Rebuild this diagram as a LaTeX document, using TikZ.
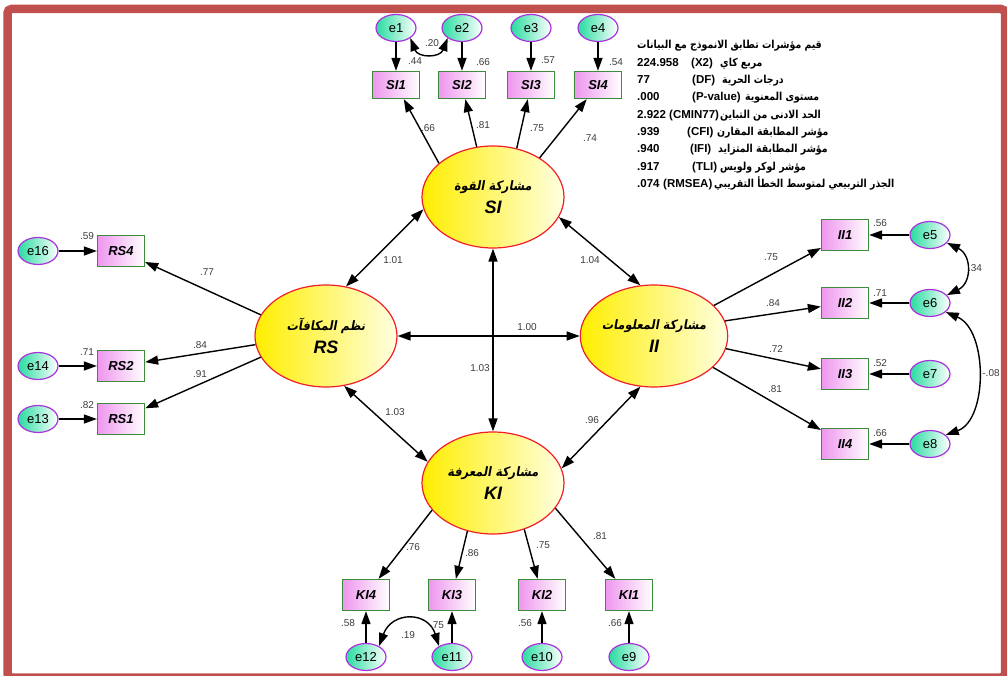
\documentclass[tikz,border=0pt]{standalone}
\usepackage{fontspec}
\setmainfont{Liberation Sans}
\newfontfamily\arabicfont[Script=Arabic,FakeStretch=0.85]{DejaVu Sans}
\newfontfamily\arabicell[Script=Arabic,FakeStretch=0.88,FakeSlant=0.18]{DejaVu Sans}
\TeXXeTstate=1
\usetikzlibrary{shapes.geometric,arrows.meta}
\definecolor{bordred}{RGB}{192,80,77}
\definecolor{latred}{RGB}{240,30,40}
\definecolor{latyel}{RGB}{255,238,0}
\definecolor{latlight}{RGB}{255,255,225}
\definecolor{obsgreen}{RGB}{60,140,60}
\definecolor{obspink}{RGB}{238,150,238}
\definecolor{errviolet}{RGB}{170,50,220}
\definecolor{errgreen}{RGB}{40,220,160}
\definecolor{numgray}{RGB}{60,60,60}
\newcommand{\latlab}[2]{{\arabicell\bfseries\fontsize{13}{13}\selectfont\beginR #1\endR}\\[6pt]{\fontsize{18}{18}\selectfont\bfseries\itshape #2}}
\newcommand{\arb}[1]{{\arabicfont\bfseries\fontsize{11}{11}\selectfont\beginR #1\endR}}
\begin{document}
\begin{tikzpicture}[x=1pt,y=-1pt,
  lat/.style={ellipse, draw=latred, line width=1.2pt, left color=latyel, right color=latlight,
    minimum width=142pt, minimum height=102pt, inner sep=0pt, align=center},
  obs/.style={rectangle, draw=obsgreen, line width=1.3pt, left color=obspink, right color=white,
    minimum width=47pt, minimum height=31pt, inner sep=0pt, font=\fontsize{13}{13}\selectfont\bfseries\itshape},
  err/.style={ellipse, draw=errviolet, line width=1.2pt, left color=errgreen, right color=white,
    minimum width=40pt, minimum height=27pt, inner sep=0pt, font=\fontsize{13}{13}\selectfont},
  num/.style={font=\fontsize{10}{10}\selectfont, text=numgray, inner sep=0pt},
  arr/.style={line width=1.4pt, -{Triangle[length=13pt,width=9pt]}},
  darr/.style={line width=1.4pt, {Triangle[length=13pt,width=9pt]}-{Triangle[length=13pt,width=9pt]}},
  fitl/.style={anchor=base west, inner sep=0pt, font=\fontsize{11.5}{11.5}\selectfont\bfseries}
]
\useasboundingbox (0,0) rectangle (1007,676);
\draw[bordred, line width=8.5pt, rounded corners=4pt] (7.5,9) rectangle (1005,677.5);

% latent variables
\node[lat] (SI) at (493,197) {\latlab{مشاركة القوة}{SI}};
\node[lat] (RS) at (326,336) {\latlab{نظم المكافآت}{RS}};
\node[lat] (II) at (654,336) {\latlab{مشاركة المعلومات}{II}};
\node[lat] (KI) at (493,483) {\latlab{مشاركة المعرفة}{KI}};

% SI indicators
\node[obs, minimum height=27pt] (SI1) at (396,85) {SI1};
\node[obs, minimum height=27pt] (SI2) at (462,85) {SI2};
\node[obs, minimum height=27pt] (SI3) at (531,85) {SI3};
\node[obs, minimum height=27pt] (SI4) at (598,85) {SI4};
\node[err] (e1) at (396,28) {e1};
\node[err] (e2) at (462,28) {e2};
\node[err] (e3) at (531,28) {e3};
\node[err] (e4) at (598,28) {e4};

% II indicators
\node[obs] (II1) at (845,235) {II1};
\node[obs] (II2) at (845,303) {II2};
\node[obs] (II3) at (845,374) {II3};
\node[obs] (II4) at (845,444) {II4};
\node[err] (e5) at (930,235) {e5};
\node[err] (e6) at (930,303) {e6};
\node[err] (e7) at (930,374) {e7};
\node[err] (e8) at (930,444) {e8};

% RS indicators
\node[obs] (RS4) at (121,251) {RS4};
\node[obs] (RS2) at (121,366) {RS2};
\node[obs] (RS1) at (121,419) {RS1};
\node[err] (e16) at (38,251) {e16};
\node[err] (e14) at (38,366) {e14};
\node[err] (e13) at (38,419) {e13};

% KI indicators
\node[obs] (KI4) at (366,595) {KI4};
\node[obs] (KI3) at (452,595) {KI3};
\node[obs] (KI2) at (542,595) {KI2};
\node[obs] (KI1) at (629,595) {KI1};
\node[err] (e12) at (366,657) {e12};
\node[err] (e11) at (452,657) {e11};
\node[err] (e10) at (542,657) {e10};
\node[err] (e9) at (629,657) {e9};

% error arrows
\foreach \e/\o in {e1/SI1,e2/SI2,e3/SI3,e4/SI4,e5/II1,e6/II2,e7/II3,e8/II4,e16/RS4,e14/RS2,e13/RS1,e12/KI4,e11/KI3,e10/KI2,e9/KI1}
  \draw[arr] (\e) -- (\o);

% loadings
\draw[arr] (SI.148) -- (SI1);
\draw[arr] (SI.108) -- (SI2);
\draw[arr] (SI.64) -- (SI3);
\draw[arr] (SI.40) -- (SI4);
\draw[arr] (II.27) -- (II1);
\draw[arr] (II.12) -- (II2);
\draw[arr] (II.-10) -- (II3);
\draw[arr] (II.-28) -- (II4);
\draw[arr] (RS.162) -- (RS4);
\draw[arr] (RS.187) -- (RS2);
\draw[arr] (RS.198) -- (RS1);
\draw[arr] (KI.204) -- (KI4);
\draw[arr] (KI.242) -- (KI3);
\draw[arr] (KI.304) -- (KI2);
\draw[arr] (KI.338) -- (KI1);

% structural correlations
\draw[darr] (SI.190) -- (RS.68);
\draw[darr] (SI.-17) -- (II.105);
\draw[darr] (RS.-70) -- (KI.162);
\draw[darr] (KI.12) -- (II.255);
\draw[darr] (SI.south) -- (KI.north);
\draw[darr] (RS.east) -- (II.west);

% error covariances
\draw[darr] (e1.-35) .. controls (418,58) and (440,58) .. (e2.215);
\draw[darr] (e5.-25) .. controls (972,255) and (972,283) .. (e6.25);
\draw[darr] (e6.-30) .. controls (988,330) and (988,420) .. (e8.30);
\draw[darr] (e12.40) .. controls (392,611) and (428,611) .. (e11.140);

% numbers
\node[num] (c12) at (432,43) {.20};
\node[num] (c56) at (975,268) {.34};
\node[num] (c68) at (991,373) {-.08};
\node[num] (c1211) at (408,635) {.19};

\node[num] (r1) at (415,61) {.44};
\node[num] (r2) at (483,62) {.66};
\node[num] (r3) at (548,60) {.57};
\node[num] (r4) at (616,62) {.54};
\node[num] (r5) at (880,223) {.56};
\node[num] (r6) at (880,293) {.71};
\node[num] (r7) at (880,363) {.52};
\node[num] (r8) at (880,433) {.66};
\node[num] (r16) at (87,236) {.59};
\node[num] (r14) at (87,352) {.71};
\node[num] (r13) at (87,405) {.82};
\node[num] (r12) at (348,623) {.58};
\node[num] (r11) at (437,625) {.75};
\node[num] (r10) at (525,623) {.56};
\node[num] (r9) at (615,623) {.66};

\node[num] (ls1) at (428,128) {.66};
\node[num] (ls2) at (483,125) {.81};
\node[num] (ls3) at (537,128) {.75};
\node[num] (ls4) at (590,138) {.74};
\node[num] (li1) at (771,257) {.75};
\node[num] (li2) at (773,303) {.84};
\node[num] (li3) at (776,349) {.72};
\node[num] (li4) at (775,389) {.81};
\node[num] (lr4) at (207,272) {.77};
\node[num] (lr2) at (200,345) {.84};
\node[num] (lr1) at (200,374) {.91};
\node[num] (lk4) at (413,547) {.76};
\node[num] (lk3) at (472,553) {.86};
\node[num] (lk2) at (543,545) {.75};
\node[num] (lk1) at (600,536) {.81};

\node[num] (sRS) at (393,260) {1.01};
\node[num] (sII) at (590,260) {1.04};
\node[num] (sH) at (527,327) {1.00};
\node[num] (sV) at (480,368) {1.03};
\node[num] (sKI) at (395,412) {1.03};
\node[num] (sKII) at (592,420) {.96};

% fit indices
\node[fitl] (f1) at (637,49) {\arb{قيم مؤشرات تطابق الانموذج مع البيانات}};
\node[fitl] (f2) at (637,66.3) {\makebox[54pt][l]{224.958}\makebox[29pt][l]{(X2)}\arb{مربع كاي}};
\node[fitl] (f3) at (637,83.6) {\makebox[55pt][l]{77}\makebox[30pt][l]{(DF)}\arb{درجات الحرية}};
\node[fitl] (f4) at (637,100.9) {\makebox[55pt][l]{.000}\makebox[53pt][l]{(P-value)}\arb{مستوى المعنوية}};
\node[fitl] (f5) at (637,118.2) {\makebox[32pt][l]{2.922}\makebox[51pt][l]{(CMIN77)}\arb{الحد الادنى من التباين}};
\node[fitl] (f6) at (637,135.5) {\makebox[50pt][l]{.939}\makebox[30pt][l]{(CFI)}\arb{مؤشر المطابقة المقارن}};
\node[fitl] (f7) at (637,152.8) {\makebox[53pt][l]{.940}\makebox[28pt][l]{(IFI)}\arb{مؤشر المطابقة المتزايد}};
\node[fitl] (f8) at (637,170.1) {\makebox[55pt][l]{.917}\makebox[28pt][l]{(TLI)}\arb{مؤشر لوكر ولويس}};
\node[fitl] (f9) at (637,187.4) {\makebox[26pt][l]{.074}\makebox[51pt][l]{(RMSEA)}\arb{الجذر التربيعي لمتوسط الخطأ التقريبي}};
\end{tikzpicture}
\end{document}
